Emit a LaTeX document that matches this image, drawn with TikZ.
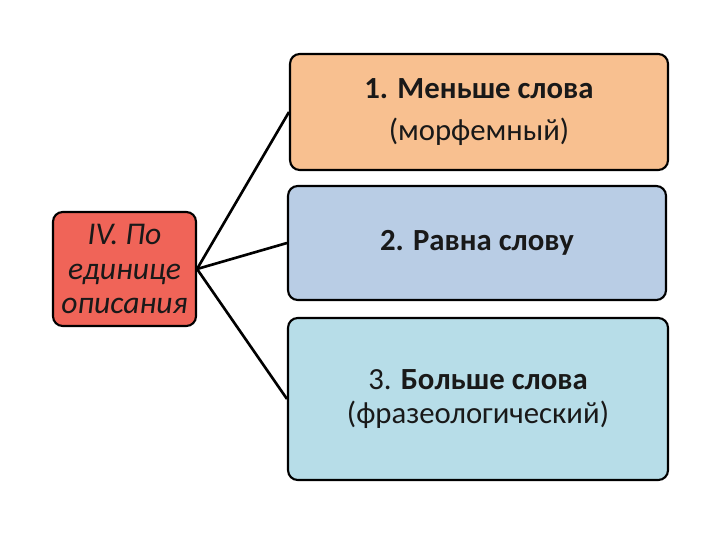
\documentclass[tikz,border=0pt]{standalone}
\usepackage{fontspec}
\setmainfont{Carlito}
\usepackage{xcolor}
\usetikzlibrary{positioning}
\definecolor{rojo}{RGB}{240,100,88}
\definecolor{durazno}{RGB}{248,192,144}
\definecolor{azulgris}{RGB}{185,205,229}
\definecolor{celeste}{RGB}{183,221,232}

\begin{document}
\begin{tikzpicture}[x=0.02cm, y=-0.02cm,
  every node/.style={draw=black, line width=1.2pt, rounded corners=5.5pt,
    align=center, inner sep=2pt, text=black!90,
    font=\fontsize{17.5}{19}\selectfont},
  link/.style={line width=1.5pt}
]
\useasboundingbox (0,0) rectangle (720,540);

% -------- Bloque izquierdo --------
\node[fill=rojo, minimum width=2.86cm, minimum height=2.28cm,
  font=\fontsize{18}{19.5}\selectfont\itshape] (unidad) at (124.5,269)
  {IV. По\\единице\\описания};

% -------- Bloques derechos --------
\node[fill=durazno, minimum width=7.56cm, minimum height=2.32cm] (menos) at (479,112)
  {\textbf{1. Меньше слова}\\[5pt](морфемный)};
\node[fill=azulgris, minimum width=7.56cm, minimum height=2.28cm] (igual) at (477,243)
  {\textbf{2. Равна слову}};
\node[fill=celeste, minimum width=7.6cm, minimum height=3.24cm] (mas) at (478,399)
  {3. \textbf{Больше слова}\\(фразеологический)};

% Conexiones
\draw[link] (unidad.east) -- (menos.west);
\draw[link] (unidad.east) -- (igual.west);
\draw[link] (unidad.east) -- (mas.west);

\end{tikzpicture}
\end{document}
